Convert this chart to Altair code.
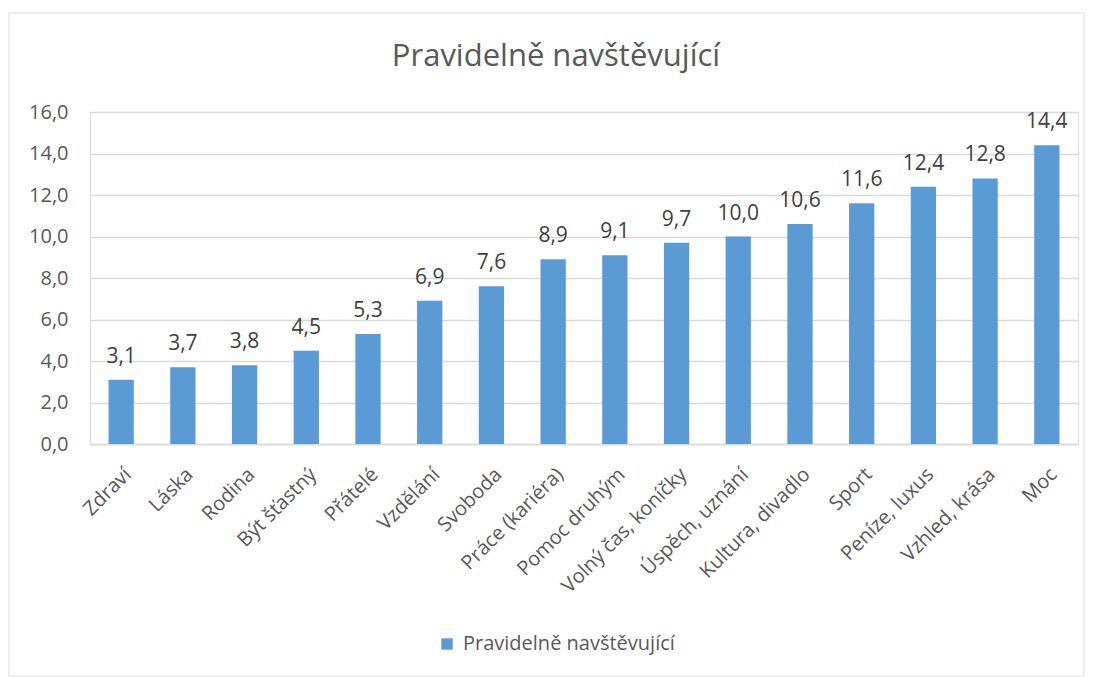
import altair as alt
import pandas as pd

categories = ["Zdraví", "Láska", "Rodina", "Být šťastný", "Přátelé", "Vzdělání",
              "Svoboda", "Práce (kariéra)", "Pomoc druhým", "Volný čas, koníčky",
              "Úspěch, uznání", "Kultura, divadlo", "Sport", "Peníze, luxus",
              "Vzhled, krása", "Moc"]
values = [3.1, 3.7, 3.8, 4.5, 5.3, 6.9, 7.6, 8.9, 9.1, 9.7, 10.0, 10.6, 11.6, 12.4, 12.8, 14.4]
series_name = "Pravidelně navštěvující"
y_ticks = [0, 2, 4, 6, 8, 10, 12, 14, 16]

df = pd.DataFrame({"kategorie": categories, "hodnota": values, "serie": series_name})

FONT = "Open Sans"
W, H = 988, 332
PAD_L, PAD_T, PAD_R, PAD_B = 82, 104, 8, 235

base = alt.Chart(df).encode(
    x=alt.X("kategorie:N", sort=categories, title=None,
            scale=alt.Scale(paddingInner=0.59, paddingOuter=0.3),
            axis=alt.Axis(labelAngle=-45, labelAlign="right", labelBaseline="top",
                          labelPadding=20, labelFontSize=20, labelColor="#595959",
                          labelFont=FONT, ticks=False, domainColor="#D9D9D9",
                          domainWidth=1.5, grid=False, labelOverlap=False,
                          labelLimit=0)),
)

bars = base.mark_bar(color="#5B9BD5").encode(
    y=alt.Y("hodnota:Q", title=None,
            scale=alt.Scale(domain=[0, 16], nice=False),
            axis=alt.Axis(values=y_ticks, labelExpr="replace(format(datum.value, '.1f'), '.', ',')",
                          labelFontSize=20, labelColor="#595959", labelFont=FONT,
                          labelPadding=22, ticks=False, domain=False,
                          gridColor="#D9D9D9", gridWidth=1.3)),
    color=alt.Color("serie:N", scale=alt.Scale(range=["#5B9BD5"]), title=None,
                    legend=alt.Legend(orient="none", legendX=347, legendY=522,
                                      symbolType="square", symbolSize=130,
                                      symbolStrokeWidth=0, labelLimit=0,
                                      labelFontSize=20, labelColor="#595959",
                                      labelFont=FONT, labelOffset=6)),
)

labels = base.transform_calculate(
    txt="replace(format(datum.hodnota, '.1f'), '.', ',')"
).mark_text(baseline="alphabetic", dy=-17, fontSize=21, color="#404040", font=FONT).encode(
    y=alt.Y("hodnota:Q"),
    text="txt:N",
)

border = alt.Chart(pd.DataFrame({"a": [0]})).mark_rect(
    fill=None, stroke="#D9D9D9", strokeWidth=1
).encode(
    x=alt.value(-81), x2=alt.value(W + 6),
    y=alt.value(-99), y2=alt.value(H + 232),
)

chart = alt.layer(border, bars, labels).properties(
    width=W, height=H,
    title=alt.TitleParams(series_name, fontSize=31, color="#595959", font=FONT,
                          fontWeight="normal", anchor="middle", baseline="alphabetic",
                          offset=-84, dx=-28),
    autosize=alt.AutoSizeParams(type="none"),
    padding={"left": PAD_L, "top": PAD_T, "right": PAD_R, "bottom": PAD_B},
).configure_view(stroke=None).configure(background="white")

chart.save("out.html", embed_options={"renderer": "svg", "actions": False})
